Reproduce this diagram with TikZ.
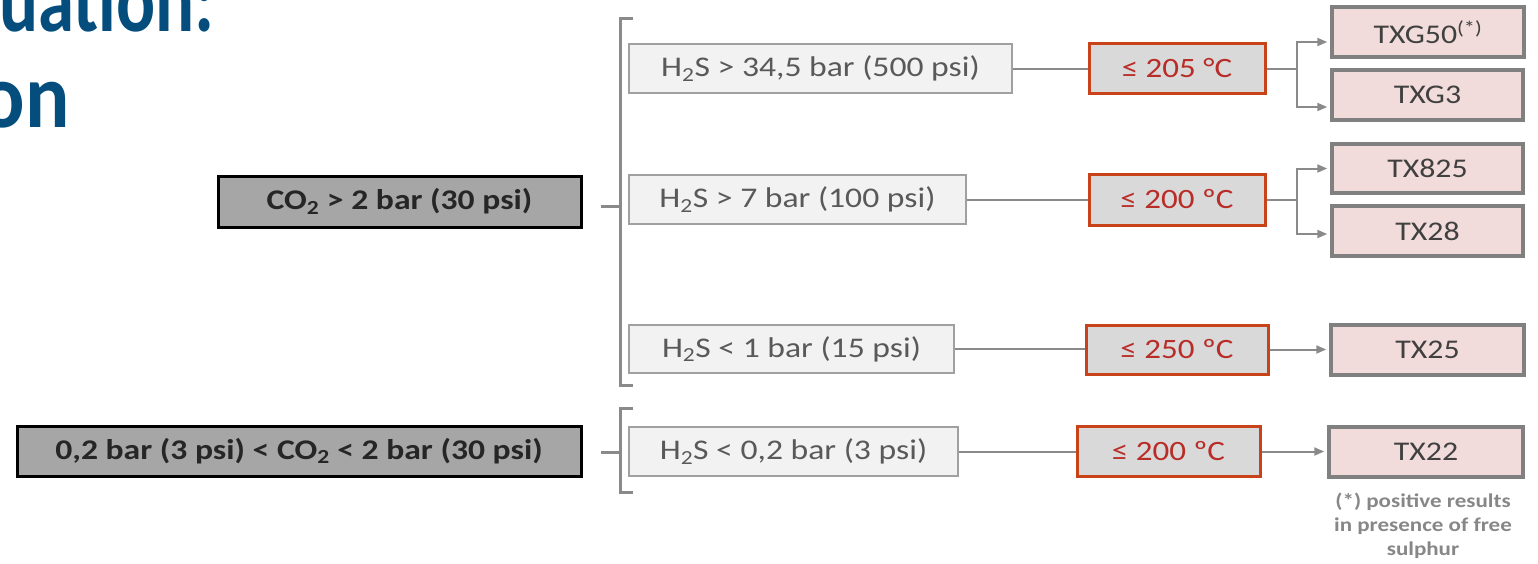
\documentclass[tikz,border=0pt]{standalone}
\usepackage{fontspec}
\usepackage{graphicx}
\setmainfont{Carlito}
\newfontfamily\bx{Carlito}[FakeStretch=1.18]
\newfontfamily\tf{Carlito}[FakeStretch=0.9]
\usetikzlibrary{arrows.meta,calc}
\definecolor{titleblue}{RGB}{4,77,125}
\definecolor{cofill}{RGB}{166,166,166}
\definecolor{hfill}{RGB}{242,242,242}
\definecolor{hdraw}{RGB}{160,160,160}
\definecolor{htext}{RGB}{89,89,89}
\definecolor{tfill}{RGB}{217,217,217}
\definecolor{tdraw}{RGB}{200,66,26}
\definecolor{ttext}{RGB}{185,45,40}
\definecolor{rfill}{RGB}{242,220,219}
\definecolor{rdraw}{RGB}{128,128,128}
\definecolor{rtext}{RGB}{64,64,64}
\definecolor{conncol}{RGB}{138,138,138}
\definecolor{notecol}{RGB}{135,135,135}
\begin{document}
\begin{tikzpicture}[x=1pt,y=-1pt,
  cobox/.style={draw=black,line width=3pt,fill=cofill,inner sep=0pt,
    font=\bx\bfseries\fontsize{28.5}{34}\selectfont,text=black!85},
  hbox/.style={draw=hdraw,line width=1.5pt,fill=hfill,inner sep=0pt,
    font=\bx\fontsize{28.5}{34}\selectfont,text=htext},
  tbox/.style={draw=tdraw,line width=3pt,fill=tfill,inner sep=0pt,
    font=\bx\fontsize{28}{34}\selectfont,text=ttext},
  rbox/.style={draw=rdraw,line width=3.5pt,fill=rfill,inner sep=0pt,
    font=\bx\fontsize{27}{32}\selectfont,text=rtext},
  conn/.style={draw=conncol,line width=2pt},
  arr/.style={conn,-{Triangle[length=10pt,width=8pt]},shorten >=3pt},
  brk/.style={draw=conncol,line width=3pt},
  titletext/.style={text=titleblue,inner sep=0pt,anchor=base east,
    font=\tf\bfseries\fontsize{92}{92}\selectfont}
]
\path[use as bounding box] (0,0) rectangle (1538,563);
\clip (0,0) rectangle (1538,563);

% title fragments
\node[titletext] (title1) at (215,31) {\scalebox{0.88}[1]{uation:}};
\node[titletext] (title2) at (70,127) {on};

% CO2 boxes
\node[cobox,minimum width=363pt,minimum height=51pt] (co1) at (399.5,201.5) {CO\textsubscript{2} > 2 bar (30 psi)};
\node[cobox,minimum width=564pt,minimum height=50pt] (co2) at (299,451) {0,2 bar (3 psi) < CO\textsubscript{2} < 2 bar (30 psi)};

% brackets
\draw[brk] (633,18) -- (620,18) -- (620,385) -- (633,385);
\draw[brk] (601,206) -- (620,206);
\draw[brk] (633,408) -- (620,408) -- (620,492) -- (633,492);
\draw[brk] (601,452) -- (620,452);

% H2S boxes
\node[hbox,minimum width=383pt,minimum height=49pt] (h1) at (820.5,68.5) {H\textsubscript{2}S > 34,5 bar (500 psi)};
\node[hbox,minimum width=337pt,minimum height=49pt] (h2) at (797.5,199.5) {H\textsubscript{2}S > 7 bar (100 psi)};
\node[hbox,minimum width=325pt,minimum height=48pt] (h3) at (791.5,349) {H\textsubscript{2}S < 1 bar (15 psi)};
\node[hbox,minimum width=329pt,minimum height=49pt] (h4) at (793.5,451.5) {H\textsubscript{2}S < 0,2 bar (3 psi)};

% temperature boxes
\node[tbox,minimum width=176pt,minimum height=50pt] (t1) at (1177,68.5) {≤ 205 °C};
\node[tbox,minimum width=176pt,minimum height=51pt] (t2) at (1177,199.5) {≤ 200 ºC};
\node[tbox,minimum width=182pt,minimum height=49pt] (t3) at (1177,349.5) {≤ 250 ºC};
\node[tbox,minimum width=183pt,minimum height=50pt] (t4) at (1168.5,451.5) {≤ 200 ºC};

% result boxes
\node[rbox,minimum width=192pt,minimum height=50pt] (r1) at (1428,32) {TXG50\textsuperscript{(*)}};
\node[rbox,minimum width=191pt,minimum height=50pt] (r2) at (1427.5,95) {TXG3};
\node[rbox,minimum width=191pt,minimum height=49pt] (r3) at (1427.5,168.5) {TX825};
\node[rbox,minimum width=191pt,minimum height=50pt] (r4) at (1427.5,231) {TX28};
\node[rbox,minimum width=193pt,minimum height=50pt] (r5) at (1427.5,350) {TX25};
\node[rbox,minimum width=194pt,minimum height=50pt] (r6) at (1426,452) {TX22};

% footnote
\node[align=center,text=notecol,inner sep=0pt,
  font=\bx\bfseries\fontsize{19.5}{24}\selectfont] (note) at (1423,526)
  {(*) positive results\\in presence of free\\sulphur};

% connectors H2S -> temperature
\draw[conn] (h1.east) -- (h1.east -| t1.west);
\draw[conn] (h2.east) -- (h2.east -| t2.west);
\draw[conn] (h3.east) -- (h3.east -| t3.west);
\draw[conn] (h4.east) -- (h4.east -| t4.west);

% branches temperature -> results
\coordinate (b1) at (1297,68.5);
\coordinate (b2) at (1297,199.5);
\draw[conn] (t1.east) -- (b1);
\draw[arr] (b1) |- ($(r1.west)+(0,10)$);
\draw[arr] (b1) |- ($(r2.west)+(0,12)$);
\draw[conn] (t2.east) -- (b2);
\draw[arr] (b2) |- ($(r3.west)+(0,0)$);
\draw[arr] (b2) |- ($(r4.west)+(0,3)$);
\draw[arr] (t3.east) -- (t3.east -| r5.west);
\draw[arr] (t4.east) -- (t4.east -| r6.west);
\end{tikzpicture}
\end{document}
